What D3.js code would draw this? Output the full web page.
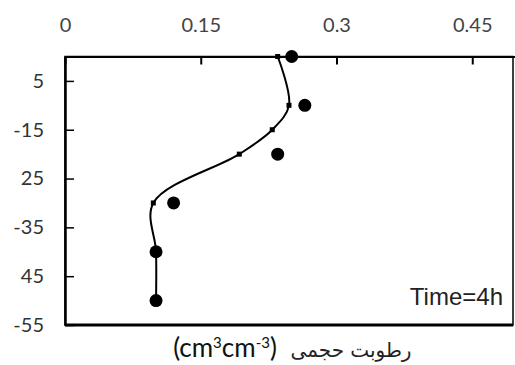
<!DOCTYPE html>
<html>
<head>
<meta charset="utf-8">
<script src="https://cdn.jsdelivr.net/npm/d3@7"></script>
<style>
  body { margin: 0; background: #fff; }
  svg { display: block; }
</style>
</head>
<body>
<svg id="chart" width="515" height="365"></svg>
<script>
// depths (cm) and moisture values
var depths = [0, 10, 20, 30, 40, 50];
var measured = [0.2505, 0.265, 0.235, 0.120, 0.1006, 0.1006];

var simDepths = [0, 10, 15, 20, 30, 40, 50];
var simulated = [0.235, 0.2475, 0.229, 0.1926, 0.0976, 0.1006, 0.1006];

var xTicks = [0, 0.15, 0.3, 0.45];
var xTickLabels = ["0", "0.15", "0.3", "0.45"];
var yTicks = [5, 15, 25, 35, 45, 55];
var yTickLabels = ["5", "-15", "25", "-35", "45", "-55"];

var width = 515, height = 365;
var margin = {top: 56.5, right: 2, bottom: 40, left: 65};

var svg = d3.select("#chart");

var x = d3.scaleLinear().domain([0, 0.5]).range([margin.left, margin.left + 452.5]);
var y = d3.scaleLinear().domain([0, 55]).range([margin.top, height - margin.bottom]);

// frame
svg.append("rect")
  .attr("x", margin.left)
  .attr("y", margin.top)
  .attr("width", width - margin.right - margin.left)
  .attr("height", y(55) - margin.top)
  .attr("fill", "none")
  .attr("stroke", "#000")
  .attr("stroke-width", 1.5);

// x axis on top, ticks pointing inward
var gx = svg.append("g")
  .attr("transform", `translate(0, ${margin.top})`)
  .call(d3.axisTop(x).tickValues(xTicks).tickSizeInner(-8).tickSizeOuter(0)
    .tickFormat((d, i) => xTickLabels[i]));
gx.select(".domain").attr("stroke-width", 2);
gx.selectAll(".tick line").attr("stroke-width", 2);
gx.selectAll(".tick text")
  .attr("y", -24.5)
  .attr("dy", 0)
  .style("font-family", "Lato, 'Open Sans', sans-serif")
  .style("font-size", "20px")
  .style("fill", "#444");

// y axis, ticks inward
var gy = svg.append("g")
  .attr("transform", `translate(${margin.left}, 0)`)
  .call(d3.axisLeft(y).tickValues(yTicks).tickSizeInner(-9).tickSizeOuter(0)
    .tickFormat((d, i) => yTickLabels[i]));
gy.select(".domain").attr("stroke-width", 2.5);
gy.selectAll(".tick line").attr("stroke-width", 1.5);
gy.selectAll(".tick text")
  .attr("x", -21)
  .style("font-family", "Lato, 'Open Sans', sans-serif")
  .style("font-size", "20px")
  .style("fill", "#333");

// bottom line of frame thicker
svg.append("line")
  .attr("x1", margin.left).attr("x2", width - margin.right)
  .attr("y1", y(55)).attr("y2", y(55))
  .attr("stroke", "#000")
  .attr("stroke-width", 3);

// simulated curve
var simData = simDepths.map((d, i) => ({depth: d, v: simulated[i]}));
var line = d3.line()
  .x(d => x(d.v))
  .y(d => y(d.depth))
  .curve(d3.curveCatmullRom.alpha(0.5));

svg.append("path")
  .datum(simData)
  .attr("d", line)
  .attr("fill", "none")
  .attr("stroke", "#000")
  .attr("stroke-width", 2);

svg.selectAll(".sim")
  .data(simData)
  .enter().append("rect")
    .attr("class", "sim")
    .attr("x", d => x(d.v) - 2.5)
    .attr("y", d => y(d.depth) - 2.5)
    .attr("width", 5)
    .attr("height", 5)
    .attr("fill", "#000");

// measured points
var obsData = depths.map((d, i) => ({depth: d, v: measured[i]}));
svg.selectAll(".obs")
  .data(obsData)
  .enter().append("circle")
    .attr("class", "obs")
    .attr("cx", d => x(d.v))
    .attr("cy", d => y(d.depth))
    .attr("r", 6.5)
    .attr("fill", "#000");

// label inside plot
svg.append("text")
  .attr("x", 503)
  .attr("y", 305)
  .attr("text-anchor", "end")
  .style("font-family", "'Liberation Sans', Arial, sans-serif")
  .style("font-size", "24px")
  .style("fill", "#222")
  .text("Time=4h");

// axis title: latin part and persian part
svg.append("text")
  .attr("x", 225)
  .attr("y", 357)
  .attr("text-anchor", "middle")
  .style("font-family", "Lato, 'Open Sans', sans-serif")
  .style("font-size", "26px")
  .style("fill", "#111")
  .html("(cm<tspan dy='-9' font-size='15'>3</tspan><tspan dy='9'>cm</tspan><tspan dy='-9' font-size='15'>-3</tspan><tspan dy='9'>)</tspan>");

svg.append("text")
  .attr("x", 351)
  .attr("y", 357)
  .attr("text-anchor", "middle")
  .style("font-family", "'DejaVu Sans', sans-serif")
  .style("font-size", "20px")
  .style("fill", "#222")
  .text("رطوبت حجمی");
</script>
</body>
</html>
